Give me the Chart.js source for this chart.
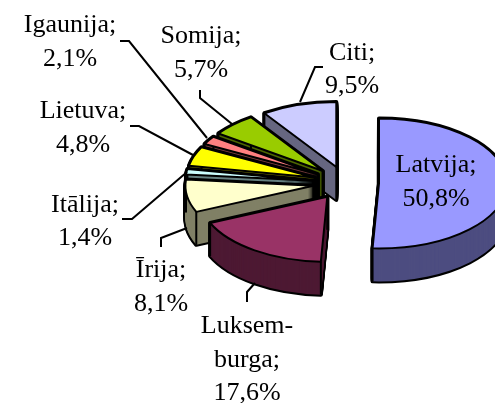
<!DOCTYPE html>
<html><head><meta charset="utf-8">
<style>html,body{margin:0;padding:0;background:#fff;overflow:hidden}canvas{display:block}</style>
<script src="https://cdn.jsdelivr.net/npm/chart.js@4"></script></head>
<body><canvas id="c" width="495" height="403"></canvas>
<script>
const categories = ["Latvija","Luksemburga","Īrija","Itālija","Lietuva","Igaunija","Somija","Citi"];
const shares = [50.8,17.6,8.1,1.4,4.8,2.1,5.7,9.5];
const topColors = ["#9999FF","#993366","#FFFFCC","#CCFFFF","#FFFF00","#FF8080","#99CC00","#CCCCFF"];
const sideColors = ["#4D4D80","#4D1933","#808066","#668080","#808000","#804040","#4D6600","#666680"];
const labelLines = [["Latvija;","50,8%"],["Luksem-","burga;","17,6%"],["Īrija;","8,1%"],["Itālija;","1,4%"],["Lietuva;","4,8%"],["Igaunija;","2,1%"],["Somija;","5,7%"],["Citi;","9,5%"]];

const labelX = [436,247,161,85,83,70,201,352];
const labelY = [172,333,277,211.5,118,32,43,59.5];
const leaders = [null,[[247,302],[247,292],[255,283]],[[161,247],[161,238],[187,228]],[[122,219],[132,219],[187,172]],[[130,126],[139,126],[193,155]],[[120,41],[129,41],[207,138]],[[200,90],[200,98],[232,124]],[[323,67],[315,67],[300,102]]];
const squash = 65/128, explode = 33, depth = 33, lineStep = 33.5;

const pie3d = {
  id:'pie3d',
  beforeDatasetsDraw(chart){
    const ctx = chart.ctx, arcs = chart.getDatasetMeta(0).data;
    const wedge = (a,dy)=>{
      const mid=(a.startAngle+a.endAngle)/2;
      const cx=a.x+Math.cos(mid)*explode, cy=a.y+Math.sin(mid)*explode*squash+dy;
      ctx.beginPath();
      ctx.moveTo(cx,cy);
      ctx.ellipse(cx,cy,a.outerRadius,a.outerRadius*squash,0,a.startAngle,a.endAngle);
      ctx.closePath();
      return {cx,cy};
    };
    ctx.save();
    ctx.lineJoin='round';
    for(let i=arcs.length-1;i>=0;i--){
      const a=arcs[i];
      ctx.strokeStyle='#000'; ctx.lineWidth=4;
      for(let d=depth;d>=0;d--){wedge(a,d);ctx.stroke();}
      ctx.fillStyle=sideColors[i];
      for(let d=depth;d>=0;d--){wedge(a,d);ctx.fill();}
      const c=wedge(a,0);
      const rx=a.outerRadius, ry=rx*squash;
      ctx.strokeStyle='#000'; ctx.lineWidth=2;
      [[c.cx,c.cy],[c.cx+rx*Math.cos(a.startAngle),c.cy+ry*Math.sin(a.startAngle)],[c.cx+rx*Math.cos(a.endAngle),c.cy+ry*Math.sin(a.endAngle)]].forEach(p=>{
        ctx.beginPath();ctx.moveTo(p[0],p[1]);ctx.lineTo(p[0],p[1]+depth);ctx.stroke();
      });
      wedge(a,0);
      ctx.fillStyle=topColors[i];ctx.fill();ctx.stroke();
    }
    ctx.strokeStyle='#000';ctx.lineWidth=2;ctx.lineJoin='miter';
    leaders.forEach(l=>{ if(!l) return;
      ctx.beginPath();ctx.moveTo(l[0][0],l[0][1]);ctx.lineTo(l[1][0],l[1][1]);ctx.lineTo(l[2][0],l[2][1]);ctx.stroke();
    });
    ctx.fillStyle='#000';ctx.font='26px "Liberation Serif"';ctx.textAlign='center';ctx.textBaseline='alphabetic';
    labelLines.forEach((ls,i)=>ls.forEach((t,j)=>ctx.fillText(t,labelX[i],labelY[i]+j*lineStep)));
    ctx.restore();
    return false;
  }
};
new Chart(document.getElementById('c'),{
  type:'pie',
  data:{labels:categories,datasets:[{data:shares,backgroundColor:topColors,borderColor:'#000',borderWidth:2}]},
  options:{responsive:false,animation:false,radius:128,
    layout:{padding:{left:197,right:0,top:0,bottom:37}},
    plugins:{legend:{display:false},tooltip:{enabled:false},title:{display:false}}},
  plugins:[pie3d]
});
</script></body></html>
